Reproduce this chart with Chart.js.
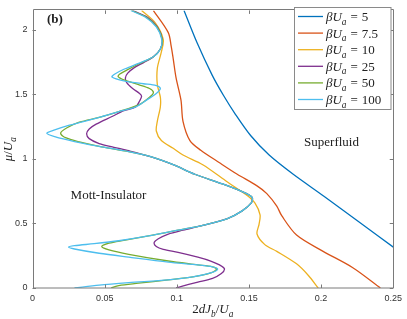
<!DOCTYPE html>
<html><head><meta charset="utf-8">
<script src="https://cdn.jsdelivr.net/npm/chart.js@4.4.0/dist/chart.umd.min.js"></script>
<style>html,body{margin:0;padding:0;background:#fff;}canvas{display:block;}</style>
</head><body>
<canvas id="c" width="407" height="319"></canvas>
<script>
// Phase boundaries: [2dJb/Ua, mu/Ua]
const curve5 = [[0.105,2.149],[0.1139,1.903],[0.1245,1.649],[0.1323,1.493],[0.1403,1.351],[0.1513,1.179],[0.164,1.030],[0.1807,0.881],[0.2022,0.709],[0.2268,0.507],[0.2513,0.306]];
const curve7_5 = [[0.0838,2.149],[0.0941,1.978],[0.0961,1.873],[0.0975,1.776],[0.0995,1.627],[0.1029,1.455],[0.1043,1.291],[0.1091,1.142],[0.1166,1.067],[0.1296,0.970],[0.1419,0.881],[0.1556,0.791],[0.1624,0.731],[0.1693,0.634],[0.1727,0.56],[0.183,0.41],[0.2014,0.284],[0.222,0.157],[0.2411,0]];
const curve10 = [[0.0756,2.149],[0.0852,2.052],[0.0906,1.925],[0.0893,1.828],[0.0865,1.701],[0.0865,1.575],[0.0886,1.478],[0.0886,1.403],[0.0865,1.291],[0.0858,1.216],[0.0893,1.142],[0.0975,1.082],[0.1043,1.03],[0.118,0.955],[0.1351,0.821],[0.1488,0.716],[0.1542,0.657],[0.1577,0.567],[0.157,0.493],[0.1556,0.418],[0.161,0.336],[0.1693,0.284],[0.183,0.187],[0.1912,0.097],[0.198,0]];
const curve25 = [[0.0694,2.149],[0.0797,2.097],[0.0865,2.022],[0.0899,1.925],[0.0886,1.851],[0.0838,1.791],[0.077,1.746],[0.0708,1.709],[0.066,1.664],[0.0644,1.627],[0.0653,1.590],[0.0694,1.545],[0.0742,1.507],[0.0756,1.485],[0.0742,1.448],[0.0715,1.403],[0.0633,1.373],[0.0551,1.328],[0.0441,1.269],[0.0393,1.231],[0.0375,1.194],[0.0393,1.157],[0.0462,1.119],[0.0564,1.090],[0.0667,1.063],[0.0824,1.015],[0.0975,0.955],[0.1125,0.881],[0.1317,0.806],[0.1453,0.746],[0.1522,0.701],[0.1515,0.657],[0.1453,0.597],[0.1351,0.537],[0.118,0.485],[0.1043,0.448],[0.0941,0.418],[0.0872,0.381],[0.0843,0.351],[0.0858,0.321],[0.0906,0.299],[0.1009,0.276],[0.1146,0.239],[0.1235,0.209],[0.1296,0.179],[0.133,0.149],[0.1309,0.112],[0.1248,0.075],[0.1146,0.045],[0.1064,0.022],[0.0995,0]];
const curve50 = [[0.0687,2.149],[0.079,2.097],[0.0862,2.022],[0.0899,1.925],[0.0886,1.851],[0.0838,1.791],[0.0735,1.735],[0.0653,1.687],[0.0605,1.657],[0.0594,1.637],[0.0633,1.612],[0.0735,1.575],[0.0811,1.545],[0.0838,1.515],[0.0811,1.478],[0.0735,1.418],[0.0598,1.366],[0.0462,1.321],[0.0325,1.284],[0.0236,1.239],[0.0195,1.199],[0.0229,1.164],[0.0325,1.131],[0.0462,1.097],[0.0667,1.056],[0.0824,1.015],[0.0975,0.955],[0.1125,0.881],[0.1317,0.806],[0.1453,0.746],[0.1522,0.701],[0.1515,0.657],[0.1453,0.597],[0.1351,0.537],[0.118,0.485],[0.1009,0.448],[0.0804,0.403],[0.0633,0.369],[0.053,0.347],[0.048,0.321],[0.053,0.295],[0.0667,0.261],[0.0941,0.209],[0.1146,0.179],[0.1248,0.164],[0.1276,0.146],[0.1241,0.119],[0.1111,0.086],[0.0941,0.063],[0.0735,0.037],[0.0598,0.019],[0.0544,0]];
const curve100 = [[0.0681,2.149],[0.0783,2.097],[0.0858,2.022],[0.0896,1.925],[0.0886,1.851],[0.0838,1.791],[0.0735,1.739],[0.0633,1.694],[0.0571,1.657],[0.0551,1.634],[0.0633,1.604],[0.077,1.582],[0.0858,1.567],[0.0886,1.545],[0.0858,1.507],[0.079,1.455],[0.0715,1.403],[0.0598,1.366],[0.0462,1.321],[0.0256,1.261],[0.0154,1.224],[0.0099,1.198],[0.0154,1.172],[0.0291,1.134],[0.0462,1.097],[0.0667,1.056],[0.0824,1.015],[0.0975,0.955],[0.1125,0.881],[0.1317,0.806],[0.1453,0.746],[0.1522,0.701],[0.1515,0.657],[0.1453,0.597],[0.1351,0.537],[0.118,0.485],[0.1009,0.448],[0.0804,0.403],[0.0598,0.366],[0.0427,0.343],[0.0291,0.328],[0.025,0.317],[0.0291,0.302],[0.0462,0.269],[0.0667,0.239],[0.0941,0.201],[0.1146,0.179],[0.1248,0.164],[0.1283,0.146],[0.1241,0.119],[0.1111,0.086],[0.0941,0.063],[0.0667,0.041],[0.0462,0.022],[0.0291,0]];

const seriesLabels = ['5','7.5','10','25','50','100'];
const seriesColors = ['#0072BD','#D95319','#EDB120','#7E2F8E','#77AC30','#4DBEEE'];
const seriesData = [curve5, curve7_5, curve10, curve25, curve50, curve100];
const xTicks = [0,0.05,0.1,0.15,0.2,0.25];
const xTickLabels = ['0','0.05','0.1','0.15','0.2','0.25'];
const yTicks = [0,0.5,1,1.5,2];
const yTickLabels = ['0','0.5','1','1.5','2'];

const SERIF = '"Liberation Serif", "DejaVu Serif", serif';
function rich(ctx, parts, x, y, align, size) {
  let w = 0;
  const items = parts.map(p => {
    const sub = p[1].indexOf('s') >= 0;
    const it = p[1].indexOf('i') >= 0;
    const bd = p[1].indexOf('b') >= 0;
    const sz = sub ? size * 0.72 : size;
    const font = (it ? 'italic ' : '') + (bd ? 'bold ' : '') + sz + 'px ' + SERIF;
    ctx.font = font;
    const mw = ctx.measureText(p[0]).width + (p[2] || 0);
    w += mw;
    return {t: p[0], font, dy: sub ? size * 0.28 : 0, w: mw, pre: p[3] || 0};
  });
  let cx = x - w * align;
  items.forEach(it => {
    ctx.font = it.font;
    ctx.fillText(it.t, cx + it.pre, y + it.dy);
    cx += it.w;
  });
}

const decor = {
  id: 'decor',
  afterDatasetsDraw(chart) {
    const ctx = chart.ctx, a = chart.chartArea;
    const xs = chart.scales.x, ys = chart.scales.y;
    ctx.save();
    ctx.strokeStyle = '#7a7a7a';
    ctx.lineWidth = 1;
    ctx.beginPath();
    ctx.rect(Math.round(a.left) + 0.5, Math.round(a.top) - 0.5, Math.round(a.right - a.left) - 1, Math.round(a.bottom - a.top) + 0.5);
    ctx.stroke();
    const tl = 3.5;
    ctx.beginPath();
    xTicks.forEach(v => {
      const px = Math.round(xs.getPixelForValue(v)) + 0.5;
      ctx.moveTo(px, a.bottom); ctx.lineTo(px, a.bottom - tl);
      ctx.moveTo(px, a.top); ctx.lineTo(px, a.top + tl);
    });
    yTicks.forEach(v => {
      const py = Math.round(ys.getPixelForValue(v)) + 0.5;
      ctx.moveTo(a.left, py); ctx.lineTo(a.left + tl, py);
      ctx.moveTo(a.right, py); ctx.lineTo(a.right - tl, py);
    });
    ctx.stroke();

    ctx.fillStyle = '#222';
    ctx.textBaseline = 'alphabetic';
    rich(ctx, [['(b)','b']], 47, 23, 0, 13);
    rich(ctx, [['Mott-Insulator','']], 108.5, 199, 0.5, 13);
    rich(ctx, [['Superfluid','']], 331.5, 146, 0.5, 13);
    rich(ctx, [['2',''],['d','i'],['J','i'],['b','si'],['/',''],['U','i'],['a','si']], (a.left + a.right) / 2, 313, 0.5, 13);
    ctx.save();
    ctx.translate(12, (a.top + a.bottom) / 2);
    ctx.rotate(-Math.PI / 2);
    rich(ctx, [['μ','i'],['/',''],['U','i'],['a','si']], 0, 0, 0.5, 13);
    ctx.restore();

    // legend
    const lx = 294.5, ly = 7.5, lw = 96.5, lh = 102;
    ctx.fillStyle = '#fff';
    ctx.fillRect(lx, ly, lw, lh);
    ctx.strokeStyle = '#8a8a8a';
    ctx.lineWidth = 1;
    ctx.strokeRect(lx, ly, lw, lh);
    seriesLabels.forEach((lab, i) => {
      const yy = 16.5 + i * 16.6;
      ctx.strokeStyle = seriesColors[i];
      ctx.lineWidth = 1.3;
      ctx.beginPath(); ctx.moveTo(298, yy); ctx.lineTo(323, yy); ctx.stroke();
      ctx.fillStyle = '#222';
      rich(ctx, [['β','i'],['U','i'],['a','si'],['=','',8,4],[lab,'']], 326, yy + 4.5, 0, 13);
    });
    ctx.restore();
  }
};

const datasets = seriesData.map((d, i) => ({
  label: seriesLabels[i],
  data: d.map(p => ({x: p[0], y: p[1]})),
  showLine: true,
  borderColor: seriesColors[i],
  backgroundColor: seriesColors[i],
  borderWidth: 1.3,
  pointRadius: 0,
  tension: 0.3,
  fill: false,
  order: 6 - i
}));

new Chart(document.getElementById('c'), {
  type: 'scatter',
  data: {datasets},
  plugins: [decor],
  options: {
    responsive: false,
    devicePixelRatio: 1,
    animation: false,
    layout: {padding: {top: 1, right: 9, left: 0, bottom: 0}},
    plugins: {legend: {display: false}, tooltip: {enabled: false}},
    scales: {
      x: {
        type: 'linear', min: 0, max: 0.25,
        grid: {display: false, drawTicks: false},
        border: {display: false},
        afterBuildTicks: s => { s.ticks = xTicks.map(v => ({value: v})); },
        afterFit: s => { s.height = 31; },
        ticks: {padding: 5, color: '#333', font: {family: '"Liberation Sans", Arial, sans-serif', size: 9},
          callback: (v) => xTickLabels[xTicks.indexOf(v)] ?? ''}
      },
      y: {
        type: 'linear', min: 0, max: 2.15,
        grid: {display: false, drawTicks: false},
        border: {display: false},
        afterBuildTicks: s => { s.ticks = yTicks.map(v => ({value: v})); },
        afterFit: s => { s.width = 32.5; },
        ticks: {padding: 5, color: '#333', font: {family: '"Liberation Sans", Arial, sans-serif', size: 9},
          callback: (v) => yTickLabels[yTicks.indexOf(v)] ?? ''}
      }
    }
  }
});
</script>
</body></html>
